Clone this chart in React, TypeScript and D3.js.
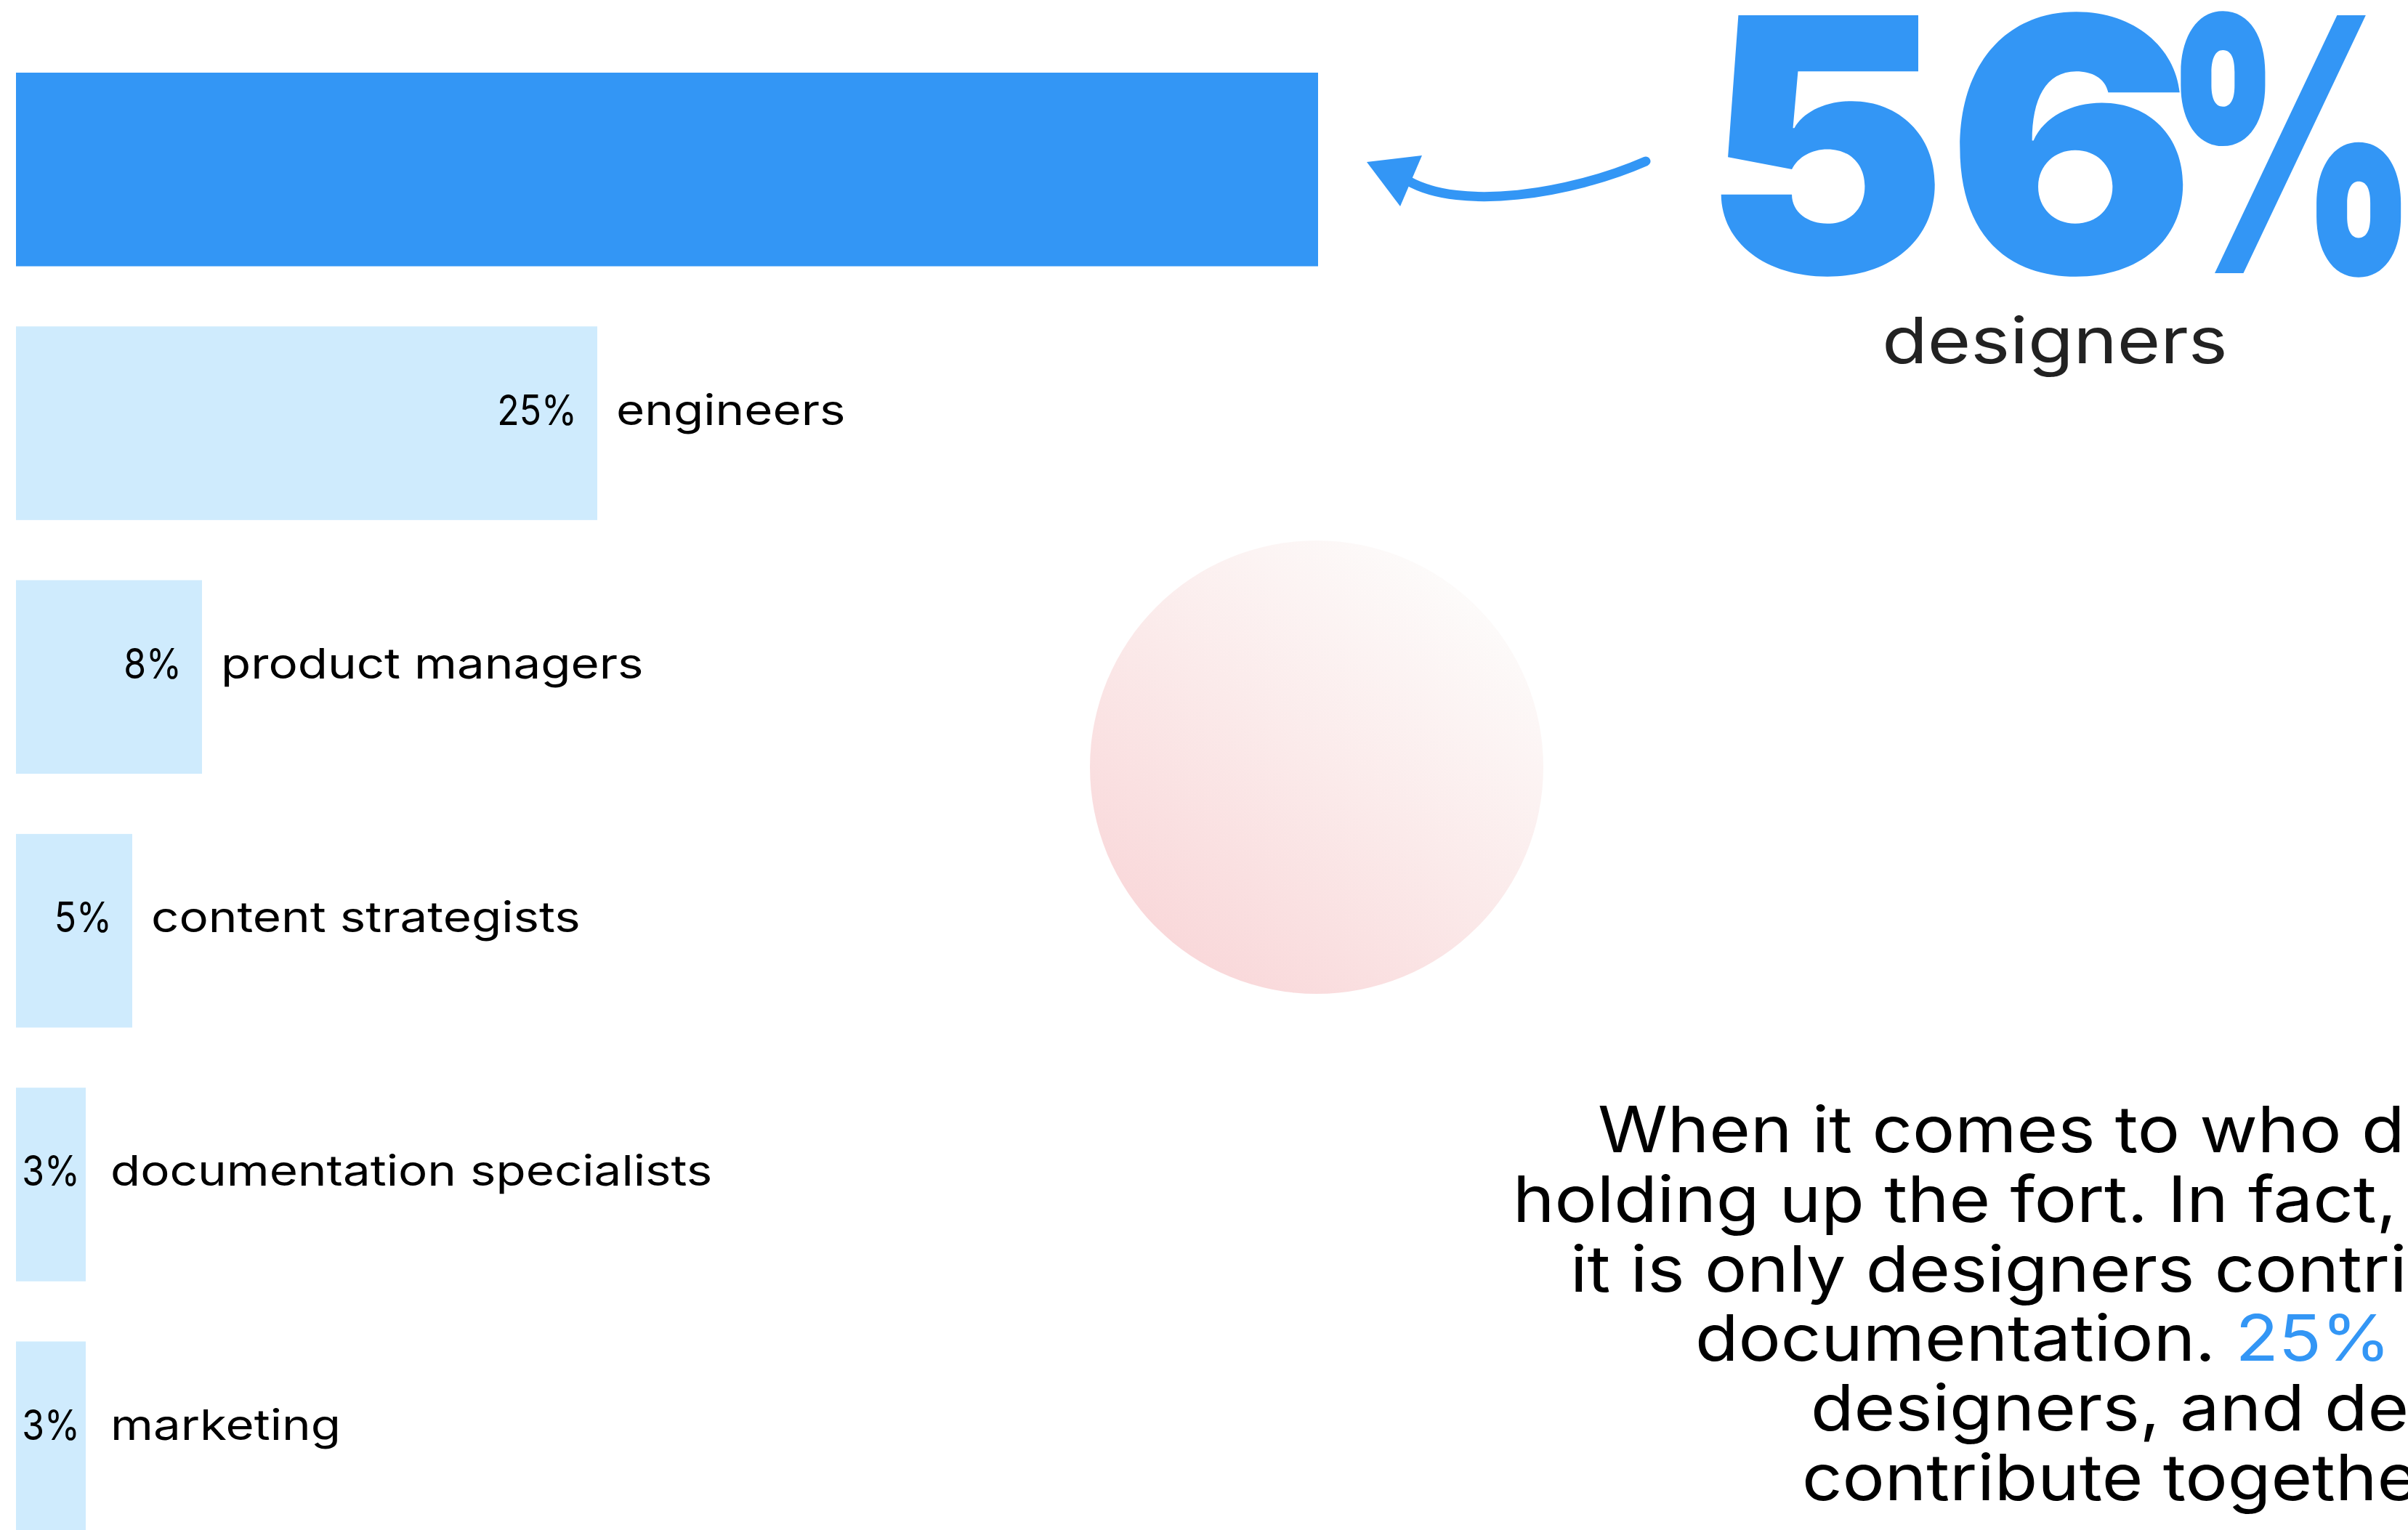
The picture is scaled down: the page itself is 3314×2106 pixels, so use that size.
import React from 'react';
import * as d3 from 'd3';

// ---- data ----
const categories = [
  'designers',
  'engineers',
  'product managers',
  'content strategists',
  'documentation specialists',
  'marketing',
];
const shares = [56, 25, 8, 5, 3, 3];
const headlineNumber = '56';
const headlineSign = '%';
const headlineLabel = 'designers';
const paragraphLines = [
  'When it comes to who does documentation, designers are',
  'holding up the fort. In fact, 56% of respondents said',
  'it is only designers contributing to their team’s',
  'documentation. 25% have engineers and',
  'designers, and developers and designers',
  'contribute together.',
];
const highlightToken = '25%';

// ---- layout / style ----
const W = 3314;
const H = 2106;
const BLUE = '#3396F5';
const LIGHT = '#CFEBFD';
const FONT = 'Inter, "Open Sans", sans-serif';
const LABEL_WIDE = 1.16;
const VALUE_WIDE = 0.86;
const PARA_WIDE = 1.105;

export default function App() {
  const x = d3.scaleLinear().domain([0, 56]).range([22, 1814]);
  const y = d3
    .scaleBand<string>()
    .domain(categories)
    .range([100, 2113])
    .paddingInner(0.237)
    .paddingOuter(0);

  const arrow = d3.path();
  arrow.moveTo(2265, 222);
  arrow.bezierCurveTo(2160, 268, 2010, 290, 1938, 249);

  const paraStarts = [2199, 2082, 2161, 2333, 2492, 2480];
  const paraBase = 1586;
  const paraStep = 95.8;

  return (
    <svg
      width={W}
      height={H}
      viewBox={`0 0 ${W} ${H}`}
      style={{ position: 'absolute', left: 0, top: 0, background: '#fff', display: 'block' }}
      fontFamily={FONT}
    >
      <defs>
        <linearGradient id="blob" x1="0.15" y1="0.95" x2="0.85" y2="0.05">
          <stop offset="0" stopColor="#F9D6D8" />
          <stop offset="0.5" stopColor="#FBEAEA" />
          <stop offset="1" stopColor="#FDFDFC" />
        </linearGradient>
      </defs>
      <rect width={W} height={H} fill="#fff" />

      {/* decorative circle */}
      <circle cx={1812} cy={1056} r={312} fill="url(#blob)" />

      {/* bars */}
      {categories.map((c, i) => (
        <rect
          key={c}
          x={x(0)}
          y={y(c)}
          width={x(shares[i]) - x(0)}
          height={y.bandwidth()}
          fill={i === 0 ? BLUE : LIGHT}
        />
      ))}

      {/* labels */}
      {categories.map((c, i) => {
        if (i === 0) return null;
        const cy = (y(c) as number) + y.bandwidth() / 2 + 2;
        const vx = Math.max(x(shares[i]) - 28, 110);
        const nx = Math.max(x(shares[i]) + 26, 152);
        return (
          <g key={c}>
            <g transform={`translate(${vx},${cy}) scale(${VALUE_WIDE},1)`}>
              <text textAnchor="end" fontSize={58} fill="#000">
                {shares[i]}%
              </text>
            </g>
            <g transform={`translate(${nx},${cy}) scale(${LABEL_WIDE},1)`}>
              <text textAnchor="start" fontSize={58} fill="#000">
                {c}
              </text>
            </g>
          </g>
        );
      })}

      {/* arrow */}
      <path d={arrow.toString()} fill="none" stroke={BLUE} strokeWidth={13} strokeLinecap="round" />
      <polygon points="1881,223 1957,214 1927,284" fill={BLUE} />

      {/* headline */}
      <g transform={`translate(2343,376) scale(1.037,1)`}>
        <text textAnchor="start" fontSize={488} fontWeight={900} fill={BLUE}>
          {headlineNumber}
        </text>
      </g>
      <g transform={`translate(2977,376) scale(0.69,1)`}>
        <text textAnchor="start" fontSize={488} fontWeight={900} fill={BLUE}>
          {headlineSign}
        </text>
      </g>
      <g transform={`translate(2828,500) scale(${LABEL_WIDE},1)`}>
        <text textAnchor="middle" fontSize={88} fill="#222">
          {headlineLabel}
        </text>
      </g>

      {/* paragraph */}
      {paragraphLines.map((line, i) => {
        const parts = line.split(highlightToken);
        return (
          <g key={i} transform={`translate(${paraStarts[i]},${paraBase + i * paraStep}) scale(${PARA_WIDE},1)`}>
            <text fontSize={88} fill="#000">
              {parts.map((p, j) => (
                <React.Fragment key={j}>
                  {j > 0 && <tspan fill={BLUE}>{highlightToken}</tspan>}
                  <tspan>{p}</tspan>
                </React.Fragment>
              ))}
            </text>
          </g>
        );
      })}
    </svg>
  );
}
